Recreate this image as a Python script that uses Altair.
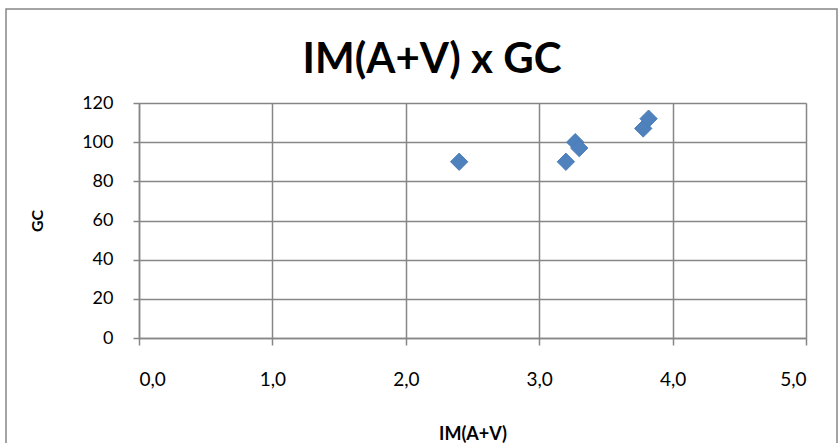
import altair as alt
import pandas as pd

im_av = [2.40, 3.20, 3.27, 3.30, 3.78, 3.82]
gc = [90, 90, 100, 97, 107, 112]
x_ticks = [0, 1, 2, 3, 4, 5]
y_ticks = [0, 20, 40, 60, 80, 100, 120]
title_text = ["IM(A+V) x GC"]

df = pd.DataFrame({"IM(A+V)": im_av, "GC": gc})

W, H = 667, 235
PL, PT, PR, PB = 139, 103, 32, 105

points = alt.Chart(df).mark_point(
    shape="diamond", filled=True, size=300, color="#4F81BD",
    stroke="#4A7EBB", strokeWidth=1, opacity=1
).encode(
    x=alt.X("IM(A+V):Q",
            scale=alt.Scale(domain=[0, 5], nice=False),
            axis=alt.Axis(values=x_ticks, title="IM(A+V)",
                          labelExpr="replace(format(datum.value, '.1f'), '.', ',')",
                          grid=True, gridColor="#868686", gridWidth=1.5,
                          domainColor="#868686", domainWidth=1.5,
                          tickColor="#868686", tickWidth=1.5, tickSize=7,
                          labelFontSize=19, labelPadding=25, labelColor="#000000",
                          labelFont="Lato",
                          titleFont="Lato", titleFontSize=18, titleFontWeight="bold",
                          titlePadding=36, titleColor="#000000")),
    y=alt.Y("GC:Q",
            scale=alt.Scale(domain=[0, 120], nice=False),
            axis=alt.Axis(values=y_ticks, title="GC",
                          grid=True, gridColor="#868686", gridWidth=1.5,
                          domainColor="#868686", domainWidth=1.5,
                          tickColor="#868686", tickWidth=1.5, tickSize=6,
                          labelFontSize=18, labelPadding=20, labelColor="#000000",
                          labelFont="Lato",
                          titleFont="Lato", titleFontSize=16, titleFontWeight="bold",
                          titlePadding=36, titleColor="#000000"))
)

frame = alt.Chart(pd.DataFrame({"a": [0]})).mark_rect(
    fill=None, stroke="#868686", strokeWidth=1.5
).encode(
    x=alt.value(-PL + 6), x2=alt.value(W + PR - 1),
    y=alt.value(-PT + 9), y2=alt.value(H + PB + 20)
)

title = alt.Chart(pd.DataFrame({"t": title_text})).mark_text(
    font="Lato", fontSize=42, fontWeight="bold", color="#000000",
    align="center", baseline="middle"
).encode(
    text="t:N",
    x=alt.value(432 - PL), y=alt.value(60 - PT)
)

chart = alt.layer(frame, points, title).properties(
    width=W, height=H,
    padding={"left": PL, "top": PT, "right": PR, "bottom": PB},
    autosize=alt.AutoSizeParams(type="none")
).configure_view(stroke=None).configure(background="white")

chart.save("out.html", embed_options={"renderer": "svg", "actions": False})
